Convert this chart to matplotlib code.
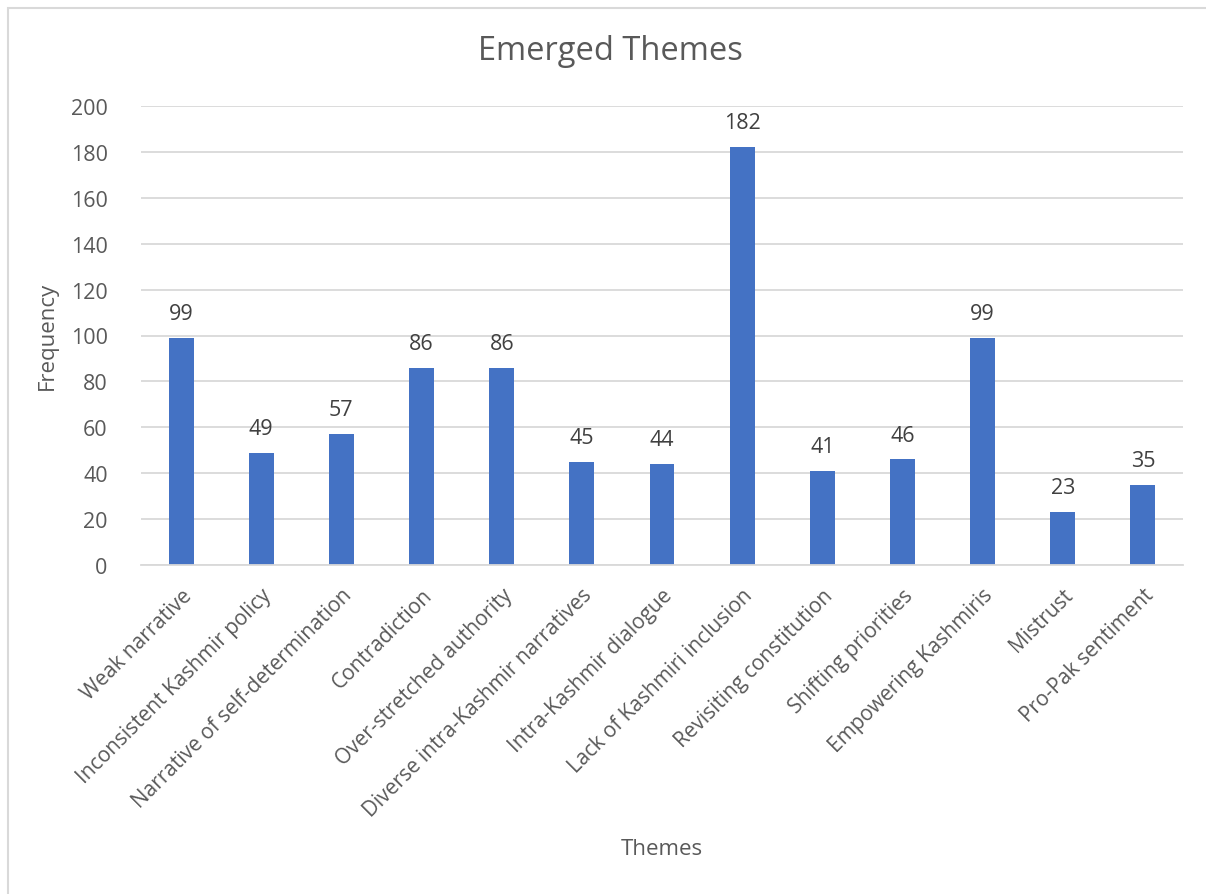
import numpy as np
import matplotlib.pyplot as plt
from matplotlib.patches import Rectangle

# Dados do gráfico
temas = ['Weak narrative', 'Inconsistent Kashmir policy', 'Narrative of self-determination',
         'Contradiction', 'Over-stretched authority', 'Diverse intra-Kashmir narratives',
         'Intra-Kashmir dialogue', 'Lack of Kashmiri inclusion', 'Revisiting constitution',
         'Shifting priorities', 'Empowering Kashmiris', 'Mistrust', 'Pro-Pak sentiment']
frequencia = [99, 49, 57, 86, 86, 45, 44, 182, 41, 46, 99, 23, 35]
y_ticks = [0, 20, 40, 60, 80, 100, 120, 140, 160, 180, 200]

plt.rcParams['font.family'] = ['Open Sans', 'DejaVu Sans']
cinza = '#595959'

fig = plt.figure(figsize=(12.06, 8.95), dpi=100)
ax = fig.add_axes([141 / 1206, 1 - 566 / 895, (1183 - 141) / 1206, (566 - 107) / 895])

# moldura do gráfico (estilo Excel)
fig.patches.append(Rectangle((8 / 1206, -0.1), 1.2, 1 - 9 / 895 + 0.1, transform=fig.transFigure,
                             fill=False, edgecolor='#d9d9d9', linewidth=1.5))

x = np.arange(len(temas))
barras = ax.bar(x, frequencia, width=0.31, color='#4472C4', zorder=3)
ax.bar_label(barras, padding=10, fontsize=15.5, color='#404040')

ax.set_xlim(-0.5, len(temas) - 0.5)
ax.set_ylim(0, 200)
ax.set_yticks(y_ticks)
ax.grid(axis='y', color='#d9d9d9', linewidth=1.3, zorder=0)
for s in ['top', 'right', 'left']:
    ax.spines[s].set_visible(False)
ax.spines['bottom'].set_color('#d9d9d9')
ax.spines['bottom'].set_linewidth(1.3)
ax.spines['bottom'].set_zorder(4)

ax.set_xticks(x)
ax.set_xticklabels(temas, rotation=45, ha='right', rotation_mode='anchor', fontsize=15, color=cinza)
ax.tick_params(axis='both', length=0, colors=cinza)
ax.tick_params(axis='y', labelsize=15.5, pad=24)
ax.tick_params(axis='x', pad=14)

fig.text(610 / 1206, 1 - 52 / 895, 'Emerged Themes', ha='center', va='center', fontsize=23.5, color=cinza)
fig.text(662 / 1206, 1 - 850 / 895, 'Themes', ha='center', va='center', fontsize=16, color=cinza)
fig.text(47 / 1206, 1 - 336 / 895, 'Frequency', ha='center', va='center', rotation=90, fontsize=16, color=cinza)

plt.savefig('out.png', dpi=100, facecolor='white')
